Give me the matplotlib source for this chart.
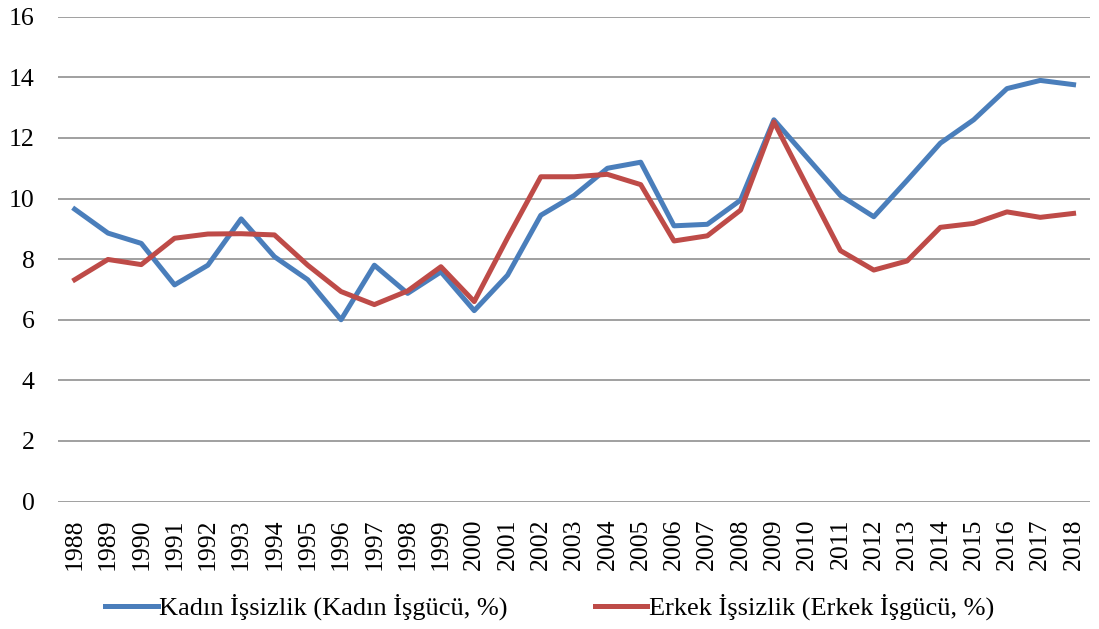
import matplotlib.pyplot as plt
import numpy as np

plt.rcParams['font.family'] = ['Liberation Serif', 'DejaVu Serif']

years = [str(y) for y in range(1988, 2019)]
kadin = [9.65, 8.86, 8.52, 7.15, 7.8, 9.33, 8.08, 7.32, 6.0, 7.8,
         6.87, 7.58, 6.3, 7.47, 9.45, 10.1, 11.0, 11.2, 9.1, 9.15,
         9.95, 12.6, 11.35, 10.1, 9.4, 10.6, 11.83, 12.6, 13.63, 13.9, 13.76]
erkek = [7.32, 7.99, 7.82, 8.69, 8.83, 8.84, 8.8, 7.8, 6.93, 6.5,
         6.95, 7.75, 6.6, 8.7, 10.72, 10.72, 10.8, 10.46, 8.6, 8.77,
         9.62, 12.53, 10.4, 8.28, 7.64, 7.94, 9.05, 9.18, 9.56, 9.38, 9.51]
labels = ['Kadın İşsizlik (Kadın İşgücü, %)', 'Erkek İşsizlik (Erkek İşgücü, %)']

fig = plt.figure(figsize=(10.99, 6.29), dpi=100)
ax = fig.add_axes([0.0528, 0.2027, 0.9392, 0.7706])

x = np.arange(len(years))
ax.plot(x, kadin, color='#4A7EBB', lw=3.6, label=labels[0], solid_joinstyle='round')
ax.plot(x, erkek, color='#BE4B48', lw=3.6, label=labels[1], solid_joinstyle='round')

ax.set_ylim(0, 16)
ax.set_yticks(range(0, 17, 2))
ax.set_xlim(-0.5, len(years) - 0.5)
ax.set_xticks(x)
ax.set_xticklabels(years, rotation=90)
ax.grid(axis='y', color='#868686', lw=1.1)
ax.set_axisbelow(True)
for s in ax.spines.values():
    s.set_visible(False)
ax.tick_params(axis='both', length=0, labelsize=18.5)
ax.tick_params(axis='y', pad=17)
ax.tick_params(axis='x', pad=12)

fig.legend(loc='center', bbox_to_anchor=(0.5, 0.035), ncol=2, frameon=False,
           fontsize=19, handlelength=2.0, handletextpad=0.05, columnspacing=3.3)

fig.savefig('out.png', dpi=100)
